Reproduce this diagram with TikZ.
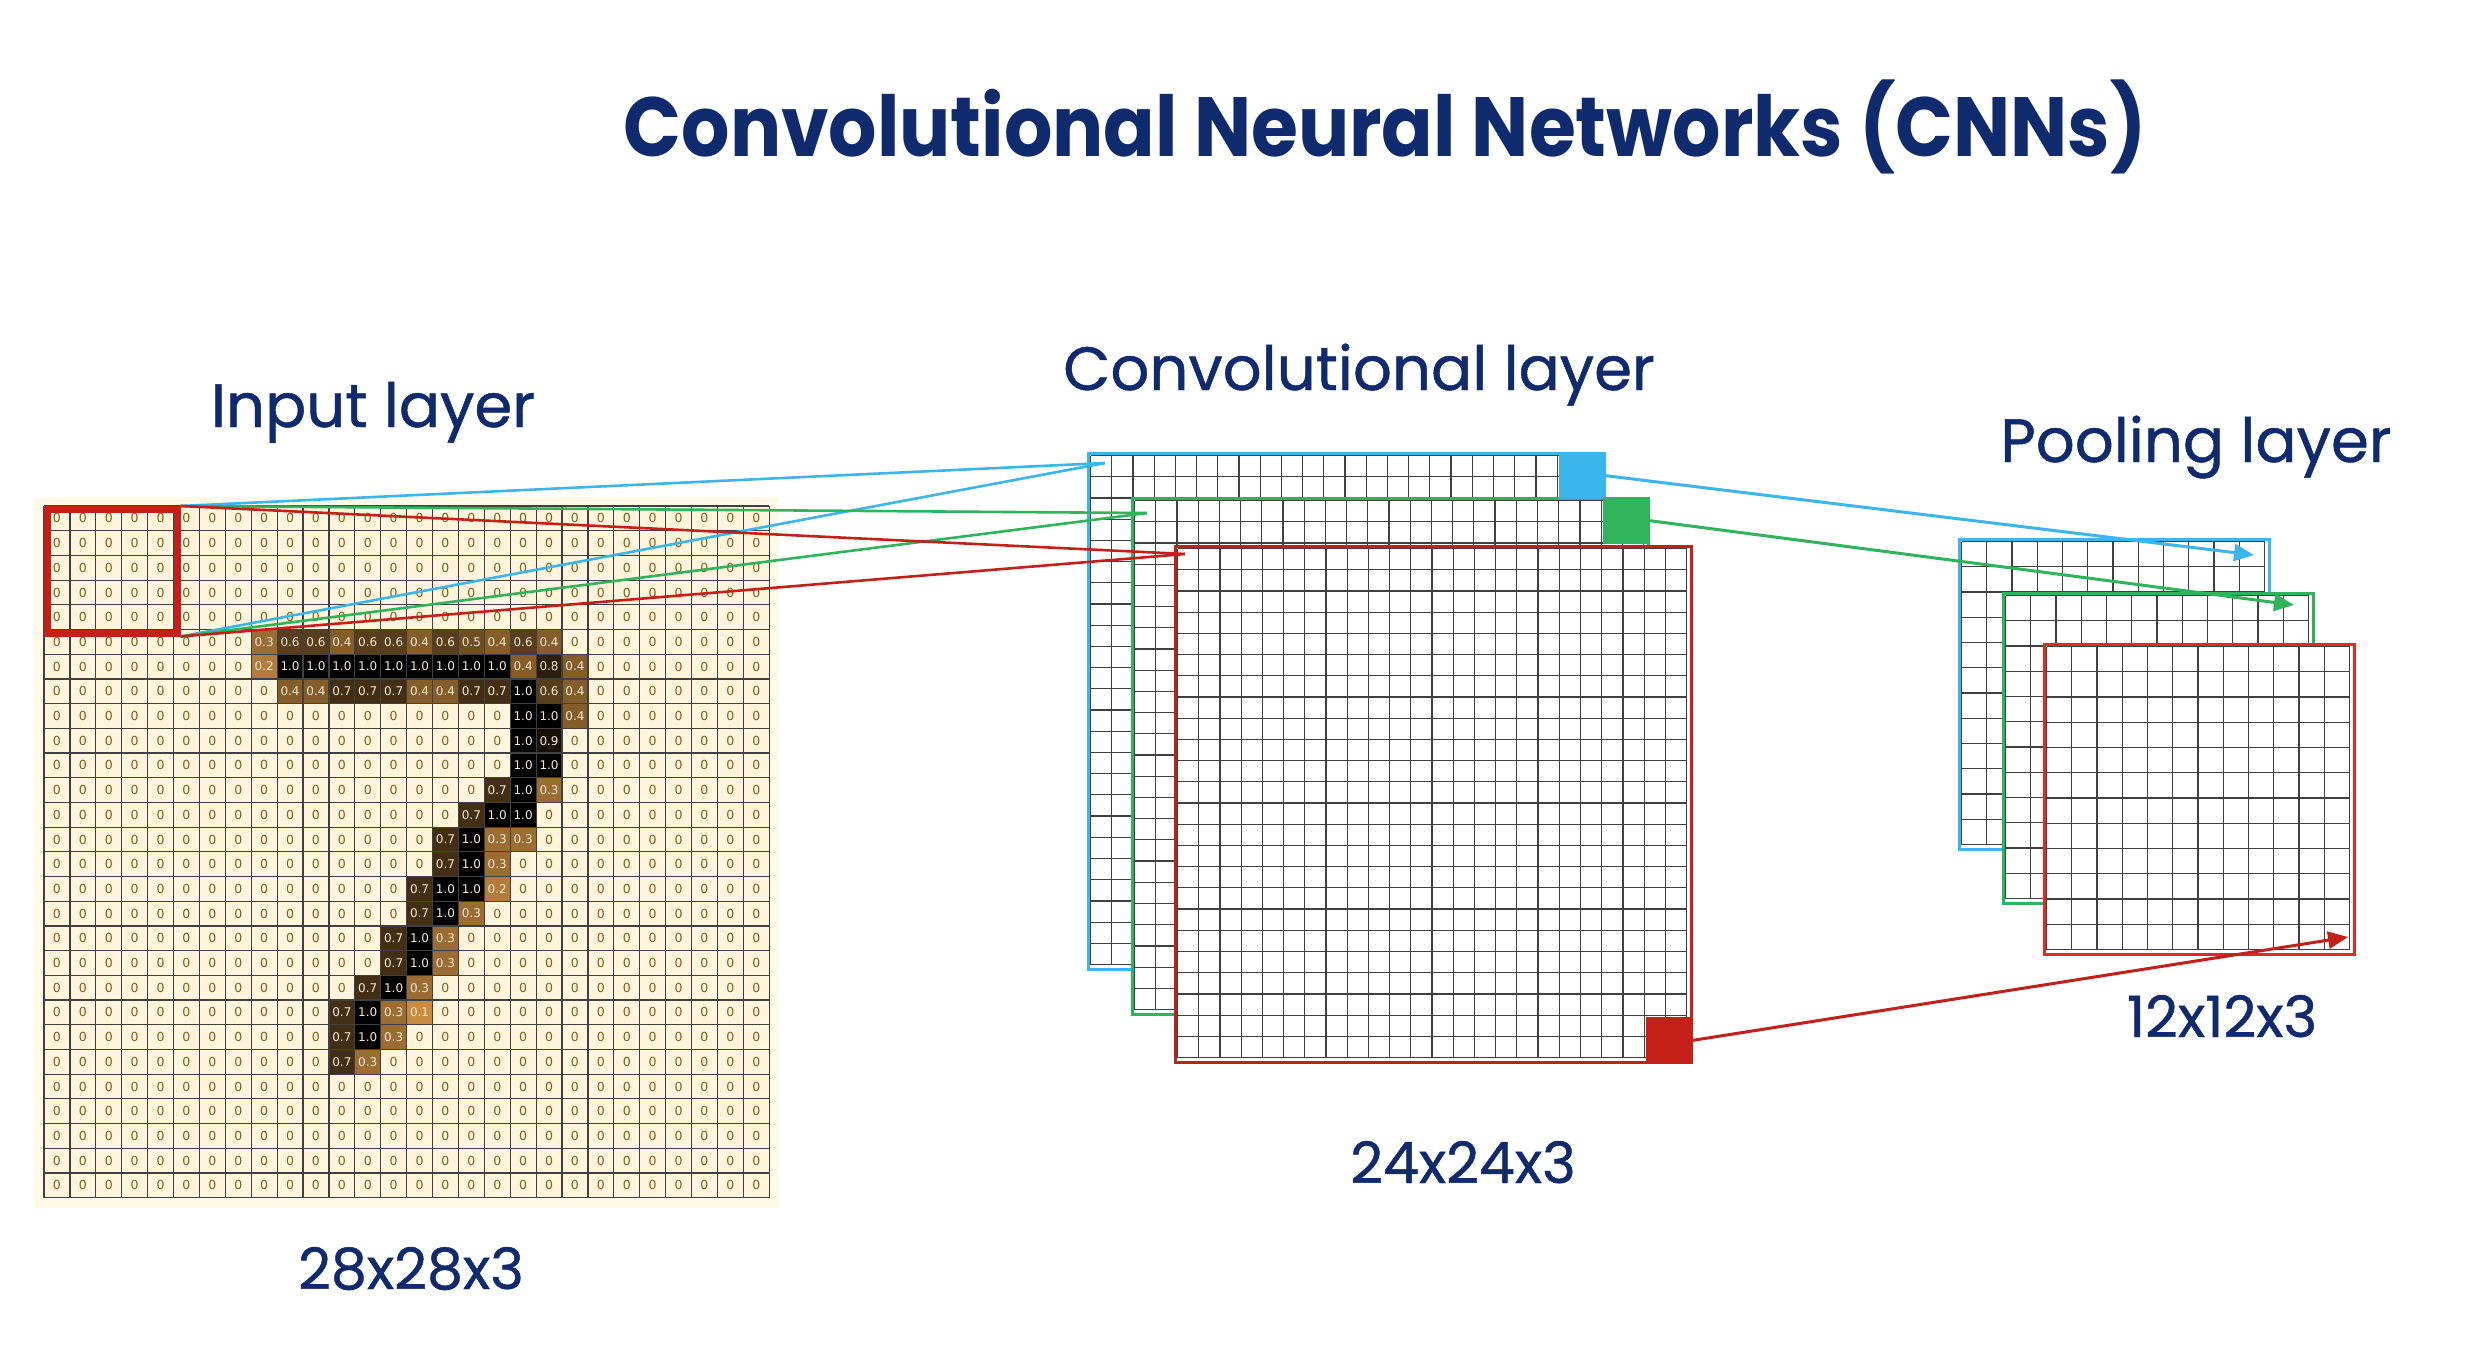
\documentclass[tikz,border=0pt]{standalone}
\usepackage{fontspec}
\setmainfont{Poppins}
\newfontfamily\lblfont{Poppins}[FakeBold=0.8]
\newfontfamily\cellfont{DejaVu Sans}
\usetikzlibrary{arrows.meta}
\definecolor{navy}{HTML}{102A6E}
\definecolor{cnnblue}{HTML}{3CB4EC}
\definecolor{cnngreen}{HTML}{2FB35B}
\definecolor{cnnred}{HTML}{C42019}
\definecolor{poolred}{HTML}{E42A20}
\definecolor{creambg}{HTML}{FFF9E8}
\definecolor{cellcream}{HTML}{FFF5DC}
\definecolor{pixbrown}{RGB}{200,140,65}
\definecolor{zerotext}{HTML}{80601A}
\definecolor{valtext}{HTML}{F6EAD0}
\newcommand\cellgrid[5]{%
  \foreach \i in {0,...,#3}{%
    \draw[gridln] ({#1+\i*#4},{#2}) -- ({#1+\i*#4},{#2+#3*#5});
    \draw[gridln] ({#1},{#2+\i*#5}) -- ({#1+#3*#4},{#2+\i*#5});
  }}
\begin{document}
\begin{tikzpicture}[x=1pt,y=-1pt,
  gridln/.style={draw=black!75,line width=1.2pt},
  cellzero/.style={font=\cellfont\fontsize{12.5}{14}\selectfont,text=zerotext,inner sep=0pt},
  cellval/.style={font=\cellfont\fontsize{12}{14}\selectfont,text=valtext,inner sep=0pt},
  frame/.style={fill=white,line width=3pt,minimum width=#1,minimum height=#1,inner sep=0pt,anchor=north west},
  frame/.default=516pt,
  mark sq/.style={inner sep=0pt,minimum width=47pt,minimum height=47pt},
  feed/.style={line width=2.6pt},
  conn/.style={line width=3pt,-{Triangle[length=20pt,width=17pt]}},
  titlestyle/.style={font=\bfseries\fontsize{84}{100}\selectfont,text=navy,anchor=base,inner sep=0pt},
  lbl/.style={font=\lblfont\fontsize{61}{70}\selectfont,text=navy,anchor=base,inner sep=0pt},
  dimlbl/.style={font=\lblfont\fontsize{57}{66}\selectfont,text=navy,anchor=base,inner sep=0pt}]
\fill[white] (0,0) rectangle (2480,1362);
\useasboundingbox (0,0) rectangle (2480,1362);

% ---------- titles ----------
\node[titlestyle] (title) at (1385,157) {\scalebox{0.905}[1]{Convolutional Neural Networks (CNNs)}};
\node[lbl] (linput) at (373,427) {Input layer};
\node[lbl] (lconv) at (1359,390) {Convolutional layer};
\node[lbl] (lpool) at (2196,462) {Pooling layer};
\node[dimlbl] (dinput) at (411,1289) {28x28x3};
\node[dimlbl] (dconv) at (1463,1183) {24x24x3};
\node[dimlbl] (dpool) at (2222,1037) {12x12x3};

% ---------- input layer ----------
\fill[creambg] (34,497) rectangle (779,1208);
\fill[cellcream] (44,506) rectangle ({44+28*25.9},{506+28*24.7});
\foreach \r in {0,...,27}{
  \foreach \c in {0,...,27}{
    \node[cellzero] (z-\r-\c) at ({44+(\c+0.5)*25.9},{506+(\r+0.5)*24.7}) {0};
  }}
\foreach \r/\c/\v in {5/8/0.3,5/9/0.6,5/10/0.6,5/11/0.4,5/12/0.6,5/13/0.6,5/14/0.4,5/15/0.6,5/16/0.5,5/17/0.4,5/18/0.6,5/19/0.4,
  6/8/0.2,6/9/1.0,6/10/1.0,6/11/1.0,6/12/1.0,6/13/1.0,6/14/1.0,6/15/1.0,6/16/1.0,6/17/1.0,6/18/0.4,6/19/0.8,6/20/0.4,
  7/9/0.4,7/10/0.4,7/11/0.7,7/12/0.7,7/13/0.7,7/14/0.4,7/15/0.4,7/16/0.7,7/17/0.7,7/18/1.0,7/19/0.6,7/20/0.4,
  8/18/1.0,8/19/1.0,8/20/0.4,
  9/18/1.0,9/19/0.9,
  10/18/1.0,10/19/1.0,
  11/17/0.7,11/18/1.0,11/19/0.3,
  12/16/0.7,12/17/1.0,12/18/1.0,
  13/15/0.7,13/16/1.0,13/17/0.3,13/18/0.3,
  14/15/0.7,14/16/1.0,14/17/0.3,
  15/14/0.7,15/15/1.0,15/16/1.0,15/17/0.2,
  16/14/0.7,16/15/1.0,16/16/0.3,
  17/13/0.7,17/14/1.0,17/15/0.3,
  18/13/0.7,18/14/1.0,18/15/0.3,
  19/12/0.7,19/13/1.0,19/14/0.3,
  20/11/0.7,20/12/1.0,20/13/0.3,20/14/0.1,
  21/11/0.7,21/12/1.0,21/13/0.3,
  22/11/0.7,22/12/0.3}{
  \pgfmathsetmacro\pct{(1-\v)*100/0.9}
  \fill[pixbrown!\pct!black] ({44+\c*25.9},{506+\r*24.7}) rectangle +(25.9,24.7);
  \node[cellval] (v-\r-\c) at ({44+(\c+0.5)*25.9},{506+(\r+0.5)*24.7}) {\v};
}
\cellgrid{44}{506}{28}{25.9}{24.7}
\node[draw=cnnred,line width=7pt,minimum width=129.5pt,minimum height=123.5pt,inner sep=0pt,anchor=north west] (rbox) at (44,506) {};

% ---------- convolutional layer ----------
\node[frame,draw=cnnblue] (convB) at (1087,452) {};
\cellgrid{1090.5}{455.5}{24}{21.21}{21.21}
\node[frame,draw=cnngreen] (convG) at (1131,497) {};
\cellgrid{1134.5}{500.5}{24}{21.21}{21.21}
\node[frame,draw=cnnred] (convR) at (1174,545) {};
\cellgrid{1177.5}{548.5}{24}{21.21}{21.21}
\node[mark sq,fill=cnnblue,anchor=north east] (sqB) at (convB.north east) {};
\node[mark sq,fill=cnngreen,anchor=north east] (sqG) at (convG.north east) {};
\node[mark sq,fill=cnnred,anchor=south east] (sqR) at (convR.south east) {};

% ---------- pooling layer ----------
\node[frame=310pt,draw=cnnblue] (poolB) at (1958,538) {};
\cellgrid{1961.5}{541.5}{12}{25.25}{25.25}
\node[frame=310pt,draw=cnngreen] (poolG) at (2002,592) {};
\cellgrid{2005.5}{595.5}{12}{25.25}{25.25}
\node[frame=310pt,draw=poolred] (poolR) at (2043,643) {};
\cellgrid{2046.5}{646.5}{12}{25.25}{25.25}

% ---------- connectors input -> conv ----------
\coordinate (tB) at (1105,463);
\coordinate (tG) at (1147,513);
\coordinate (tR) at (1185,554);
\draw[feed,cnnblue] (rbox.north east) -- (tB);
\draw[feed,cnnblue] (rbox.south east) -- (tB);
\draw[feed,cnngreen] (rbox.north east) -- (tG);
\draw[feed,cnngreen] (rbox.south east) -- (tG);
\draw[feed,cnnred] (rbox.north east) -- (tR);
\draw[feed,cnnred] (rbox.south east) -- (tR);

% ---------- connectors conv -> pool ----------
\coordinate (pB) at (2254,555);
\coordinate (pG) at (2294,605);
\coordinate (pR) at (2348,937);
\draw[conn,cnnblue] (sqB.east) -- (pB);
\draw[conn,cnngreen] (sqG.east) -- (pG);
\draw[conn,cnnred] (sqR.east) -- (pR);
\end{tikzpicture}
\end{document}
